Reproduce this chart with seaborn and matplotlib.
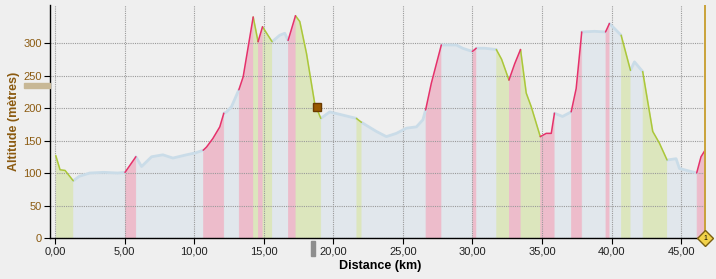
import matplotlib
matplotlib.use("Agg")
import matplotlib.pyplot as plt
from matplotlib.patches import Rectangle
import seaborn as sns
import pandas as pd

# ---- data ----
dist_km = [0.05, 0.36, 0.72, 1.31, 1.75, 2.5, 3.5, 4.5, 5.03, 5.81, 6.22, 6.94, 7.75, 8.47,
           9.45, 10.10, 10.65, 10.89, 11.34, 11.84, 12.13, 12.33, 12.68, 13.21, 13.52,
           14.24, 14.59, 14.91, 15.60, 16.15, 16.51, 16.75, 17.28, 17.59, 18.07, 18.66,
           19.10, 19.74, 20.70, 21.66, 22.02, 23.09, 23.81, 24.53, 25.25, 25.97, 26.44,
           26.63, 27.04, 27.76, 28.84, 29.29, 29.99, 30.27, 30.87, 31.71, 32.09, 32.62,
           33.03, 33.45, 33.86, 34.22, 34.87, 35.30, 35.66, 35.89, 36.47, 37.09, 37.45,
           37.85, 38.77, 39.56, 39.84, 40.08, 40.68, 41.35, 41.64, 42.23, 42.95, 43.43,
           43.98, 44.63, 44.87, 46.11, 46.42, 46.71]
alt_m = [127, 105, 104, 88, 95, 100, 101, 100, 101, 125, 110, 125, 128, 123,
         128, 131, 135, 140, 153, 171, 192, 194, 202, 228, 248,
         340, 302, 325, 302, 312, 315, 304, 342, 333, 284, 207,
         184, 194, 189, 184, 178, 164, 156, 161, 169, 171, 182,
         197, 238, 297, 297, 292, 287, 292, 292, 290, 275, 243,
         268, 290, 223, 202, 156, 161, 161, 192, 187, 194, 230,
         317, 318, 317, 330, 325, 312, 258, 271, 256, 164, 146,
         120, 122, 107, 100, 125, 135]
# grade of each interval (point i -> i+1): D = descent, F = flat, C = climb
grade_runs = ["DDD", "FFFFF", "C", "FFFFFFF", "CCCC", "FFF", "CC", "D", "C", "D", "FFF", "C",
              "DDDD", "FFF", "D", "FFFFFFF", "CC", "FFF", "C", "FF", "DD", "CC", "DDD", "CCC",
              "FF", "CC", "FF", "C", "FF", "D", "FF", "DDD", "FFF", "CC"]
grade = list("".join(grade_runs))
assert len(grade) == len(dist_km) - 1

x_ticks = [0, 5, 10, 15, 20, 25, 30, 35, 40, 45]
y_ticks = [0, 50, 100, 150, 200, 250, 300]
marker_km, marker_alt = 18.8, 201
end_km = 46.71

fill_col = {"C": "#EDBCCB", "D": "#DCE6BD", "F": "#E1E7EC"}
line_col = {"C": "#E5316B", "D": "#ABC73A", "F": "#CADCE8"}

# ---- build runs of same grade ----
rows = []
runs = []
start = 0
for i, g in enumerate(grade):
    if i > 0 and g != grade[i - 1]:
        runs.append((start, i, grade[i - 1]))
        start = i
runs.append((start, len(grade), grade[-1]))
for r, (s, e, g) in enumerate(runs):
    for j in range(s, e + 1):
        rows.append({"km": dist_km[j], "alt": alt_m[j], "grade": g, "run": r})
df = pd.DataFrame(rows)

sns.set_theme(style="white")
plt.rcParams["font.family"] = ["Liberation Sans", "DejaVu Sans"]

BG = "#EFEFEF"
fig = plt.figure(figsize=(7.16, 2.79), dpi=100, facecolor=BG)
ax = fig.add_axes([50 / 716, 41 / 279, 656 / 716, 233 / 279], facecolor=BG)

for r, (s, e, g) in enumerate(runs):
    xs = dist_km[s:e + 1]
    ys = alt_m[s:e + 1]
    ax.fill_between(xs, 0, ys, color=fill_col[g], linewidth=0.6, edgecolor=fill_col[g], zorder=1)

# flat line slightly wider (soft), climbs/descents crisp
sns.lineplot(data=df[df.grade == "F"], x="km", y="alt", units="run", estimator=None,
             sort=False, color=line_col["F"], linewidth=2.0, ax=ax, zorder=3)
sns.lineplot(data=df[df.grade != "F"], x="km", y="alt", hue="grade", units="run",
             estimator=None, sort=False, palette=line_col, linewidth=1.1, ax=ax,
             legend=False, zorder=4)

ax.set_xlim(-0.36, 46.78)
ax.set_ylim(0, 358.5)
ax.set_xticks(x_ticks)
ax.set_xticklabels([f"{v:.2f}".replace(".", ",") for v in x_ticks], fontsize=8, color="#202020")
ax.set_yticks(y_ticks)
ax.set_yticklabels([str(v) for v in y_ticks], fontsize=8, color="#8B5A10")
ax.grid(True, color="#9A9A9A", linestyle=(0, (1, 1)), linewidth=0.8, zorder=2)
ax.set_axisbelow(False)
for sp in ["top", "right"]:
    ax.spines[sp].set_visible(False)
for sp in ["left", "bottom"]:
    ax.spines[sp].set_color("#000000")
    ax.spines[sp].set_linewidth(1.0)
    ax.spines[sp].set_zorder(6)
ax.tick_params(axis="both", which="both", length=4, width=0.8, color="#000000", pad=2,
               left=True, bottom=True, direction="out")
ax.set_xlabel("")
ax.set_ylabel("")

# markers
ax.plot([marker_km], [marker_alt], marker="s", markersize=5.5, color="#9A5A00",
        markeredgecolor="#6A3A00", zorder=7)
ax.axvline(end_km, color="#C9A23A", linewidth=1.4, zorder=7)
ax.plot([end_km], [0], marker="D", markersize=8, color="#F2D24A", markeredgecolor="#7A6010",
        clip_on=False, zorder=8)
ax.text(end_km, 0, "1", fontsize=5, ha="center", va="center", color="#000000", zorder=9,
        clip_on=False)

# labels
fig.text(380 / 716, 1 - 266 / 279, "Distance (km)", ha="center", va="center",
         fontsize=9, fontweight="bold", color="#000000")
fig.text(14 / 716, 1 - 121 / 279, "Altitude (mètres)", ha="center", va="center",
         rotation=90, fontsize=9, fontweight="bold", color="#8B5A10")

# sliders
fig.patches.append(Rectangle((24 / 716, 1 - 88 / 279), 26 / 716, 5 / 279,
                             transform=fig.transFigure, color="#C8B896", zorder=5))
fig.patches.append(Rectangle((311 / 716, 1 - 256 / 279), 4 / 716, 15 / 279,
                             transform=fig.transFigure, color="#8E8E8E", zorder=5))

fig.savefig("out.png", dpi=100, facecolor=BG)
